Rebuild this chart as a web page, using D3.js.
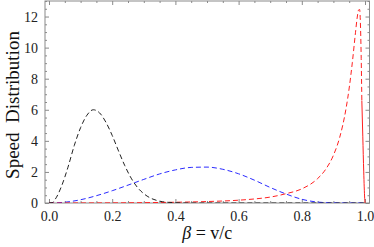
<!DOCTYPE html>
<html><head><meta charset="utf-8">
<script src="https://cdn.jsdelivr.net/npm/d3@7"></script>
<style>html,body{margin:0;padding:0;background:#fff;}svg{display:block;}</style>
</head><body>
<script>
// ---- data ----
const blackX = [0,0.01,0.02,0.04,0.06,0.08,0.10,0.12,0.14,0.16,0.18,0.20,0.22,0.24,0.26,0.28,0.30,0.32,0.34,0.36,0.38,0.40,0.45,0.5,0.6,0.7,0.8,0.9,1.0];
const blackY = [0,0.02,0.25,1.1,2.3,3.7,4.85,5.65,6.0,5.8,5.2,4.35,3.35,2.4,1.6,1.0,0.6,0.33,0.17,0.08,0.04,0.02,0,0,0,0,0,0,0];
const blueX = [0,0.05,0.1,0.15,0.2,0.25,0.3,0.35,0.4,0.45,0.5,0.55,0.6,0.65,0.7,0.75,0.8,0.85,0.9,0.95,1.0];
const blueY = [0,0.05,0.21,0.47,0.79,1.15,1.52,1.87,2.13,2.29,2.31,2.17,1.88,1.47,1.0,0.58,0.24,0.06,0.01,0,0];
const redX = [0,0.1,0.2,0.3,0.4,0.5,0.6,0.65,0.7,0.75,0.8,0.85,0.875,0.9,0.92,0.94,0.95,0.96,0.97,0.975,0.98,0.983,0.986,0.988,0.990];
const redY = [0,0.003,0.009,0.023,0.048,0.094,0.18,0.26,0.38,0.6,0.91,1.57,2.15,3.07,4.23,6.08,7.4,9.06,10.99,11.89,12.43,12.45,11.2,9.3,6.6];
const redTailX = [0.990,0.993,0.996,0.999,1.0];
const redTailY = [6.6,4.3,2.0,0.3,0];
const xTicks = [0,0.2,0.4,0.6,0.8,1.0];
const xTickLabels = ["0.0","0.2","0.4","0.6","0.8","1.0"];
const yTicks = [0,2,4,6,8,10,12];
const yTickLabels = ["0","2","4","6","8","10","12"];
const xLabel = "v/c";
const yLabel = "Speed  Distribution";

const W = 374, H = 247;
const frame = {l:45, r:369.5, t:1, b:203};
const x = d3.scaleLinear().domain([0,1]).range([49,365]);
const y = d3.scaleLinear().domain([0,13]).range([203,1]);

const svg = d3.select("body").append("svg").attr("width",W).attr("height",H);
svg.append("defs").append("clipPath").attr("id","clip")
  .append("rect").attr("x",frame.l).attr("y",frame.t).attr("width",frame.r-frame.l).attr("height",frame.b-frame.t);

const serif = "'Liberation Serif','DejaVu Serif',serif";
const frameColor = "#8a8a8a";

const xMinor = d3.range(0,1.0001,0.05).filter(v=>!xTicks.some(t=>Math.abs(t-v)<1e-6));
const yMinor = d3.range(0,13.001,0.5).filter(v=>!yTicks.some(t=>Math.abs(t-v)<1e-6));

function styleAxis(g){ g.select(".domain").remove(); g.selectAll("line").attr("stroke",frameColor); }

// bottom
svg.append("g").attr("transform",`translate(0,${frame.b})`)
  .call(d3.axisBottom(x).tickValues(xTicks).tickSize(-4).tickFormat((d,i)=>xTickLabels[i]).tickPadding(8))
  .call(styleAxis)
  .call(g=>g.selectAll("text").attr("font-family",serif).attr("font-size",14).attr("fill","#222"));
svg.append("g").attr("transform",`translate(0,${frame.b})`)
  .call(d3.axisBottom(x).tickValues(xMinor).tickSize(-2).tickFormat("")).call(styleAxis);
// top
svg.append("g").attr("transform",`translate(0,${frame.t})`)
  .call(d3.axisTop(x).tickValues(xTicks).tickSize(-4).tickFormat("")).call(styleAxis);
svg.append("g").attr("transform",`translate(0,${frame.t})`)
  .call(d3.axisTop(x).tickValues(xMinor).tickSize(-2).tickFormat("")).call(styleAxis);
// left
svg.append("g").attr("transform",`translate(${frame.l},0)`)
  .call(d3.axisLeft(y).tickValues(yTicks).tickSize(-4).tickFormat((d,i)=>yTickLabels[i]).tickPadding(7))
  .call(styleAxis)
  .call(g=>g.selectAll("text").attr("font-family",serif).attr("font-size",14).attr("fill","#222"));
svg.append("g").attr("transform",`translate(${frame.l},0)`)
  .call(d3.axisLeft(y).tickValues(yMinor).tickSize(-2).tickFormat("")).call(styleAxis);
// right
svg.append("g").attr("transform",`translate(${frame.r},0)`)
  .call(d3.axisRight(y).tickValues(yTicks).tickSize(-4).tickFormat("")).call(styleAxis);
svg.append("g").attr("transform",`translate(${frame.r},0)`)
  .call(d3.axisRight(y).tickValues(yMinor).tickSize(-2).tickFormat("")).call(styleAxis);

// frame
svg.append("rect").attr("x",frame.l).attr("y",frame.t).attr("width",frame.r-frame.l).attr("height",frame.b-frame.t)
  .attr("fill","none").attr("stroke",frameColor).attr("stroke-width",1);

const line = d3.line().x(d=>x(d[0])).y(d=>y(d[1])).curve(d3.curveMonotoneX);
const plot = svg.append("g").attr("clip-path","url(#clip)");
function series(xs, ys, color, dash){
  plot.append("path").datum(xs.map((v,i)=>[v,ys[i]]))
    .attr("d",line).attr("fill","none").attr("stroke",color).attr("stroke-width",1)
    .attr("stroke-dasharray",dash);
}
series(blueX, blueY, "#2b2bff", "5,3");
series(redX, redY, "#ff2020", "5,3");
series(redTailX, redTailY, "#ff2020", null);
series(blackX, blackY, "#222", "5,3");

// axis labels
const xl = svg.append("text").attr("x",(frame.l+frame.r)/2).attr("y",239)
  .attr("text-anchor","middle").attr("font-family",serif).attr("font-size",18).attr("fill","#111");
xl.append("tspan").attr("font-style","italic").text("β");
xl.append("tspan").text(" = " + xLabel);

svg.append("text").attr("transform",`translate(19,${(frame.t+frame.b)/2 + 3}) rotate(-90)`)
  .attr("text-anchor","middle").attr("font-family",serif).attr("font-size",19).attr("fill","#111")
  .attr("xml:space","preserve").style("white-space","pre").text(yLabel);
</script>
</body></html>
